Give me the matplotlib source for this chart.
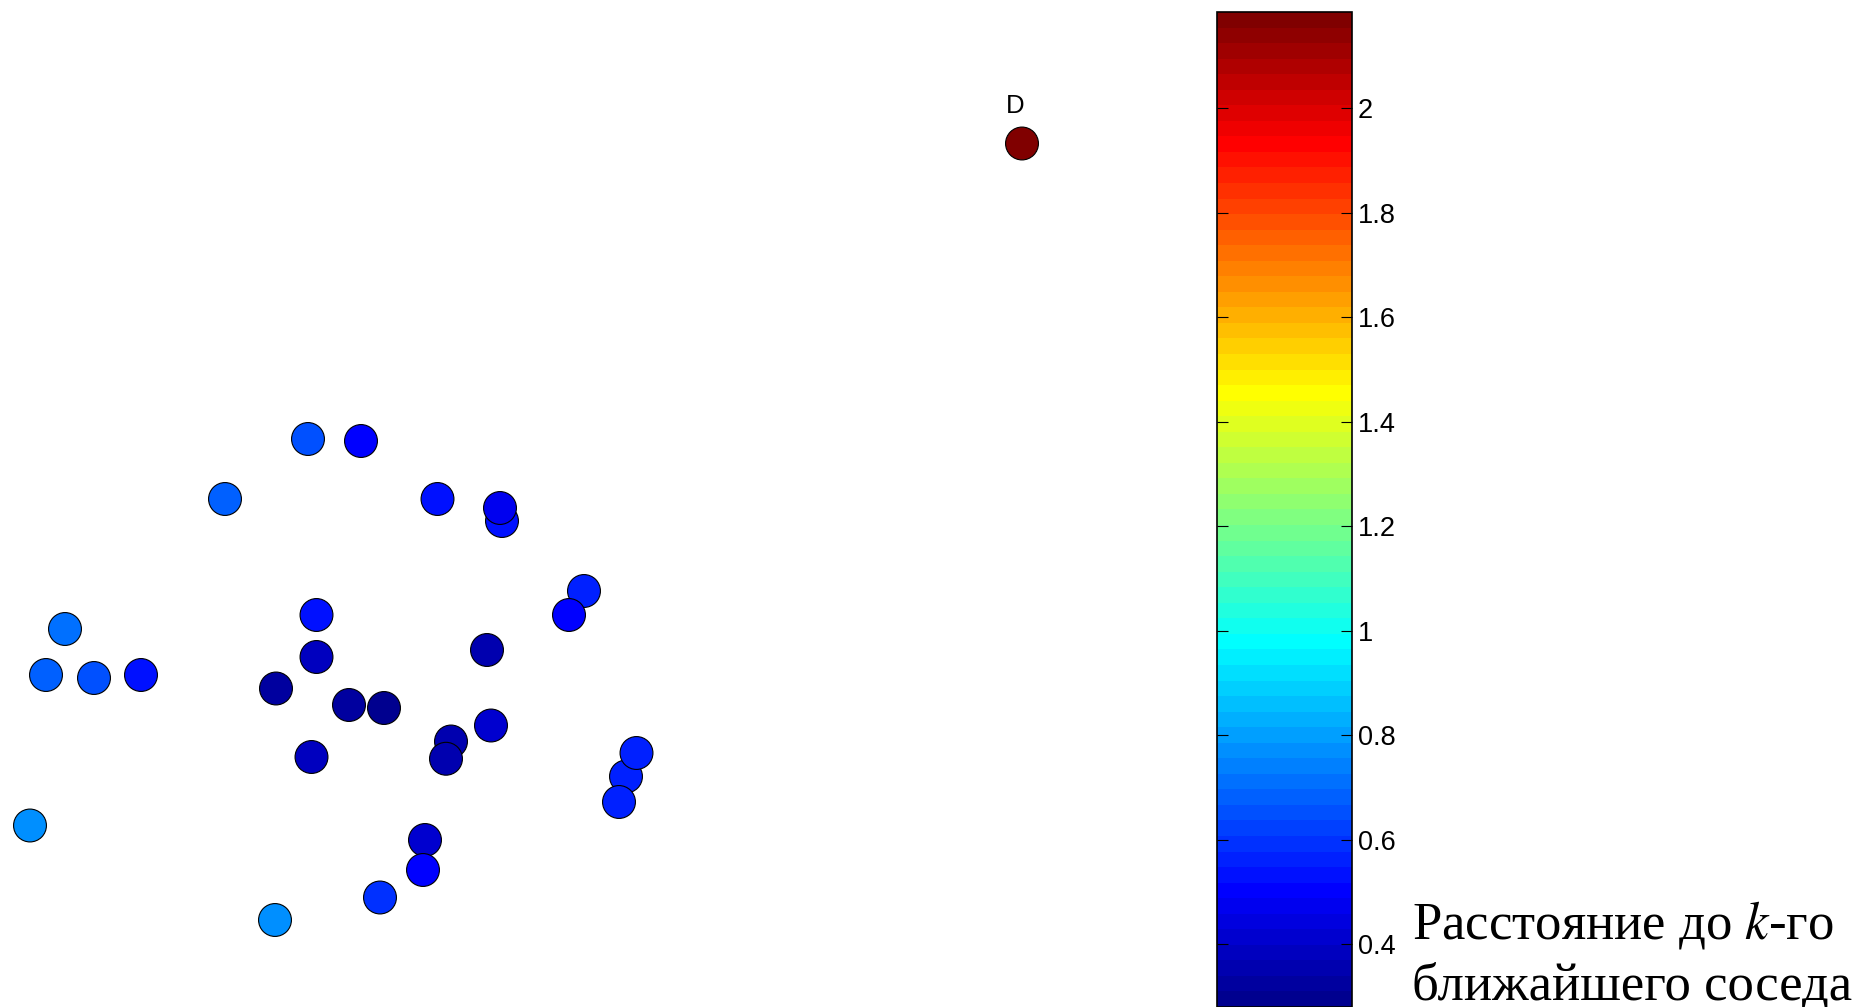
import numpy as np
import matplotlib
matplotlib.use("Agg")
import matplotlib.pyplot as plt
from matplotlib.colors import Normalize, ListedColormap
from matplotlib.ticker import FuncFormatter

plt.rcParams.update({
    "font.family": "Liberation Sans",
    "mathtext.fontset": "stix",
})

# 2-D embedding of the points, coloured by distance to k-th nearest neighbour
x = np.array([-0.768, -0.556, -1.100, -0.250, 0.008, 0.000, 0.336, 0.276,
              -1.740, -0.734, -0.734, -0.052, -1.816, -1.624, -1.436, -0.896,
              -0.604, -0.464, -0.036, -0.196, -0.216, -0.754, 0.504, 0.546,
              0.476, -1.880, -0.300, -0.308, -0.480, -0.900, 2.088])
y = np.array([0.244, 0.236, 0.004, 0.004, -0.084, -0.032, -0.364, -0.460,
              -0.516, -0.460, -0.628, -0.600, -0.700, -0.712, -0.700, -0.754,
              -0.820, -0.832, -0.902, -0.966, -1.035, -1.028, -1.106, -1.012,
              -1.208, -1.302, -1.360, -1.480, -1.590, -1.680, 1.426])
knn_dist = np.array([0.64, 0.51, 0.68, 0.54, 0.52, 0.48, 0.57, 0.49,
                     0.70, 0.52, 0.38, 0.34, 0.68, 0.64, 0.52, 0.33,
                     0.32, 0.28, 0.42, 0.35, 0.35, 0.37, 0.55, 0.57,
                     0.57, 0.78, 0.41, 0.50, 0.60, 0.77, 2.184])
outlier_label = "D"
cbar_ticks = [0.4, 0.6, 0.8, 1.0, 1.2, 1.4, 1.6, 1.8, 2.0]


def matlab_jet(m=64):
    # same construction as MATLAB's jet(m)
    n = int(np.ceil(m / 4))
    u = np.concatenate([np.arange(1, n + 1) / n, np.ones(n - 1),
                        np.arange(n, 0, -1) / n])
    g0 = int(np.ceil(n / 2)) - (1 if m % 4 == 1 else 0)
    k = np.arange(1, len(u) + 1)
    g = g0 + k
    r = g + n
    b = g - n
    J = np.zeros((m, 3))
    for ch, idx in ((0, r), (1, g), (2, b)):
        ok = (idx >= 1) & (idx <= m)
        J[idx[ok] - 1, ch] = u[ok]
    return ListedColormap(J, name="matlab_jet")


W, H = 1866, 1007
fig = plt.figure(figsize=(W / 100, H / 100), dpi=100)

ax = fig.add_axes([0, 0, 1, 1])
ax.set_xlim(-2.0, (W - 500) / 250)
ax.set_ylim((500 - H) / 250, 2.0)
ax.axis("off")

cmap = matlab_jet(64)
norm = Normalize(vmin=knn_dist.min(), vmax=knn_dist.max())
sc = ax.scatter(x, y, c=knn_dist, cmap=cmap, norm=norm, s=560,
                edgecolors="black", linewidths=0.8, zorder=3)

i_out = int(np.argmax(knn_dist))
ax.annotate(outlier_label, xy=(x[i_out], y[i_out]), xytext=(-5, 27),
            textcoords="offset points", ha="center", va="center",
            fontsize=18.5)

cax = fig.add_axes([1217 / W, 0.0, (1352 - 1217) / W, (H - 12) / H])
cb = fig.colorbar(sc, cax=cax, ticks=cbar_ticks)
cb.outline.set_linewidth(1.2)
cb.ax.yaxis.set_major_formatter(FuncFormatter(lambda v, p: f"{v:g}"))
cb.ax.tick_params(direction="in", length=8, width=0.8, labelsize=19.5,
                  left=True, right=True, pad=4)

fig.text(1412 / W, (H - 1000) / H, "Расстояние до $k$-го\nближайшего соседа",
         family="Liberation Serif", fontsize=38, ha="left", va="baseline",
         linespacing=1.3)

fig.savefig("out.png", dpi=100)
